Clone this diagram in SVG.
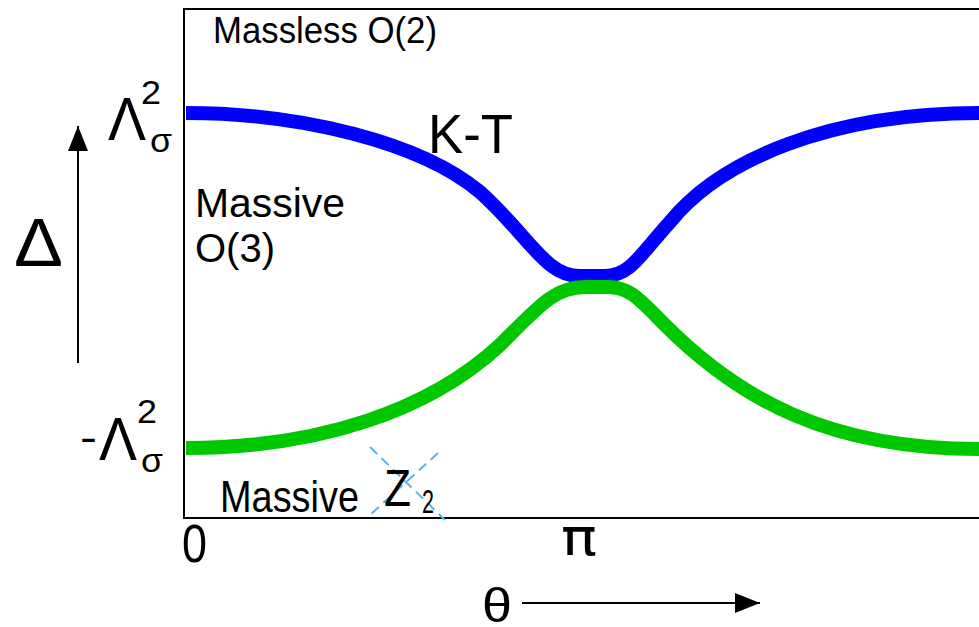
<svg xmlns="http://www.w3.org/2000/svg" width="979" height="627" viewBox="0 0 979 627">
<style>
text{font-family:"Liberation Sans",Arial,sans-serif;fill:#000}
.ax{stroke:#000;stroke-width:2;fill:none}
.curve{fill:none;stroke-width:14;stroke-linecap:butt;stroke-linejoin:round}
</style>
<defs>
<marker id="ah" viewBox="0 0 25 20" refX="25" refY="10" markerWidth="25" markerHeight="20" markerUnits="userSpaceOnUse" orient="auto">
<path d="M0,0 L25,10 L0,20 Z" fill="#000"/>
</marker>
</defs>
<rect x="184" y="9" width="810" height="509" class="ax"/>
<g id="connectors">
<path id="blue" class="curve" stroke="#0000ff" d="M186,113 C300,113 420,142 480,192 C530,237 545,276 580,276 L605,276 C630,276 640,255 670,222 C720,160 830,113 979,113"/>
<path id="green" class="curve" stroke="#00c800" d="M186,448 C320,448 430,410 500,345 C540,305 555,287 585,287 L608,287 C630,287 640,300 665,325 C740,400 830,449 979,449"/>
<line x1="78" y1="363" x2="78" y2="126" stroke="#000" stroke-width="2" marker-end="url(#ah)"/>
<line x1="522" y1="603" x2="760" y2="603" stroke="#000" stroke-width="2" marker-end="url(#ah)"/>
<g id="cross" stroke="#5ab4e6" stroke-width="2" stroke-dasharray="10,6">
<line x1="370" y1="447" x2="445" y2="520"/>
<line x1="438" y1="453" x2="370" y2="515"/>
</g>
</g>
<g id="labels">
<text x="213" y="43" font-size="37" textLength="224" lengthAdjust="spacingAndGlyphs">Massless O(2)</text>
<text x="195" y="217" font-size="40" textLength="150" lengthAdjust="spacingAndGlyphs">Massive</text>
<text x="195" y="262" font-size="40" textLength="80" lengthAdjust="spacingAndGlyphs">O(3)</text>
<text x="428" y="153" font-size="55" textLength="85" lengthAdjust="spacingAndGlyphs">K-T</text>
<text x="220" y="512" font-size="45" textLength="139" lengthAdjust="spacingAndGlyphs">Massive</text>
<text x="384" y="506" font-size="52" textLength="27" lengthAdjust="spacingAndGlyphs">Z</text>
<text x="422" y="513" font-size="34" textLength="12" lengthAdjust="spacingAndGlyphs">2</text>
<text x="108" y="140" font-size="62" textLength="38" lengthAdjust="spacingAndGlyphs">Λ</text>
<text x="150" y="152" font-size="34" textLength="22" lengthAdjust="spacingAndGlyphs">σ</text>
<text x="141" y="104" font-size="34" textLength="20" lengthAdjust="spacingAndGlyphs">2</text>
<text x="80" y="451" font-size="40" textLength="17" lengthAdjust="spacingAndGlyphs">-</text>
<text x="99" y="460" font-size="62" textLength="38" lengthAdjust="spacingAndGlyphs">Λ</text>
<text x="141" y="472" font-size="34" textLength="22" lengthAdjust="spacingAndGlyphs">σ</text>
<text x="137" y="423" font-size="34" textLength="20" lengthAdjust="spacingAndGlyphs">2</text>
<text x="14" y="266" font-size="68" textLength="49" lengthAdjust="spacingAndGlyphs">Δ</text>
<text x="182" y="562" font-size="54" textLength="25" lengthAdjust="spacingAndGlyphs">0</text>
<text x="561" y="555" font-size="52" textLength="36" lengthAdjust="spacingAndGlyphs" style="font-family:'DejaVu Sans',sans-serif">π</text>
<text x="482" y="622" font-size="48" textLength="30" lengthAdjust="spacingAndGlyphs">θ</text>
</g>
</svg>
